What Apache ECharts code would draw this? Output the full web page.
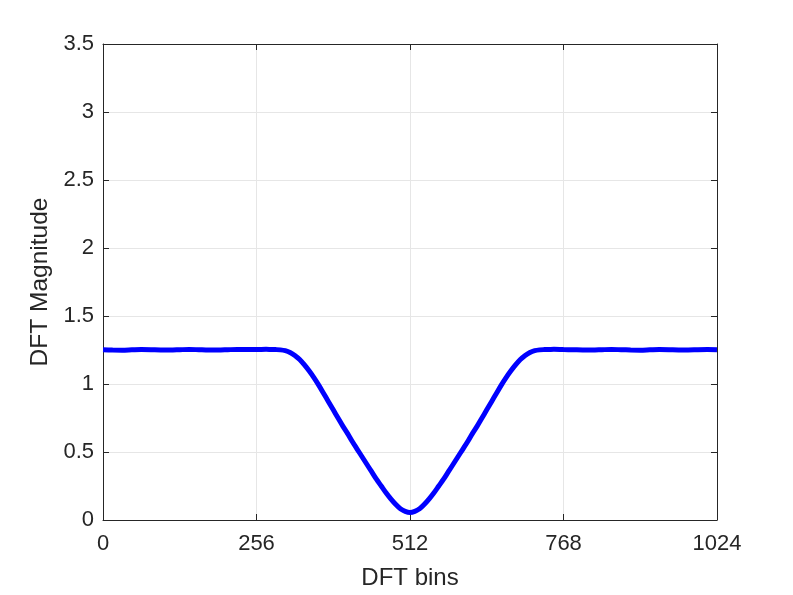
<!DOCTYPE html>
<html>
<head>
<meta charset="utf-8">
<script src="https://cdn.jsdelivr.net/npm/echarts@6/dist/echarts.min.js"></script>
<style>
html,body{margin:0;padding:0;background:#fff;}
#chart{width:793px;height:595px;}
</style>
</head>
<body>
<div id="chart"></div>
<script>
// DFT bin indices where the curve was read
const bins = [0,16,32,48,64,80,96,112,128,144,160,176,192,208,224,240,256,272,
  280,288,296,304,312,320,328,336,344,352,360,368,376,384,392,400,408,416,424,432,440,448,456,464,472,480,488,496,504,512,
  520,528,536,544,552,560,568,576,584,592,600,608,616,624,632,640,648,656,664,672,680,688,696,704,712,720,728,736,744,
  752,768,784,800,816,832,848,864,880,896,912,928,944,960,976,992,1008,1024];
// DFT magnitude
const magnitude = [1.252,1.250,1.249,1.251,1.253,1.252,1.250,1.250,1.252,1.254,1.252,1.250,1.250,1.252,1.254,1.253,1.253,1.255,
  1.254,1.253,1.251,1.245,1.232,1.210,1.180,1.140,1.095,1.045,0.990,0.930,0.870,0.810,0.750,0.690,0.635,0.575,0.520,0.465,0.410,0.355,0.300,0.250,0.200,0.155,0.115,0.082,0.063,0.055,
  0.063,0.082,0.115,0.155,0.200,0.250,0.300,0.355,0.410,0.465,0.520,0.575,0.635,0.690,0.750,0.810,0.870,0.930,0.990,1.045,1.095,1.140,1.180,1.210,1.232,1.245,1.251,1.253,1.254,
  1.255,1.253,1.252,1.250,1.250,1.252,1.254,1.252,1.250,1.249,1.251,1.253,1.252,1.250,1.250,1.252,1.253,1.252];
const xTicks = [0,256,512,768,1024];
const yTicks = [0,0.5,1,1.5,2,2.5,3,3.5];
const xLabel = 'DFT bins';
const yLabel = 'DFT Magnitude';

const font = '"Liberation Sans", Arial, Helvetica, sans-serif';
const axisColor = '#262626';
const gridColor = '#e6e6e6';

const chart = echarts.init(document.getElementById('chart'), null, {renderer:'canvas'});
const seriesData = bins.map((b,i)=>[b, magnitude[i]]);

const baseX = {
  type:'value', min:xTicks[0], max:xTicks[xTicks.length-1], interval:256,
  axisLine:{show:true, onZero:false, lineStyle:{color:axisColor, width:1}},
  axisTick:{show:true, inside:true, length:6, lineStyle:{color:axisColor}},
};
const baseY = {
  type:'value', min:yTicks[0], max:yTicks[yTicks.length-1], interval:0.5,
  axisLine:{show:true, onZero:false, lineStyle:{color:axisColor, width:1}},
  axisTick:{show:true, inside:true, length:6, lineStyle:{color:axisColor}},
};

chart.setOption({
  animation:false,
  backgroundColor:'#ffffff',
  grid:{left:103, right:76, top:44, bottom:73, containLabel:false},
  xAxis:[
    Object.assign({}, baseX, {
      position:'bottom',
      axisLabel:{show:true, color:axisColor, fontSize:22, fontFamily:font, margin:13,
        formatter:(v)=>String(v)},
      splitLine:{show:true, lineStyle:{color:gridColor, width:1}},
      name:xLabel, nameLocation:'middle', nameGap:46,
      nameTextStyle:{color:axisColor, fontSize:24, fontFamily:font}
    }),
    Object.assign({}, baseX, {
      position:'top',
      axisLabel:{show:false}, splitLine:{show:false}
    })
  ],
  yAxis:[
    Object.assign({}, baseY, {
      position:'left',
      axisLabel:{show:true, color:axisColor, fontSize:22, fontFamily:font, margin:9,
        formatter:(v)=>String(v)},
      splitLine:{show:true, lineStyle:{color:gridColor, width:1}},
      name:yLabel, nameLocation:'middle', nameGap:44,
      nameTextStyle:{color:axisColor, fontSize:24.5, fontFamily:font}
    }),
    Object.assign({}, baseY, {
      position:'right',
      axisLabel:{show:false}, splitLine:{show:false}
    })
  ],
  series:[{
    type:'line',
    data:seriesData,
    xAxisIndex:0, yAxisIndex:0,
    showSymbol:false,
    smooth:0.3,
    lineStyle:{color:'#0000ff', width:5},
    itemStyle:{color:'#0000ff'}
  }]
});
</script>
</body>
</html>
